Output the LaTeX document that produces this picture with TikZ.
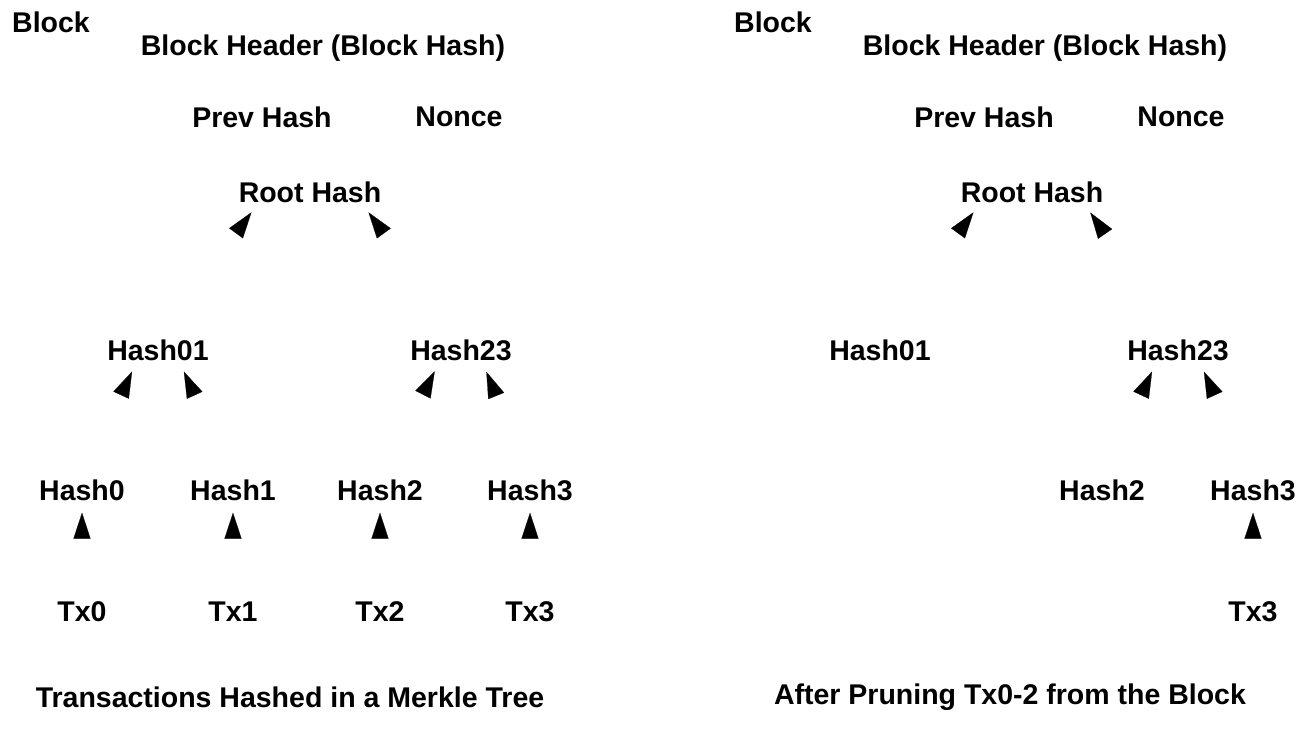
\documentclass[tikz,border=0pt]{standalone}
\usepackage{fontspec}
\setmainfont{Liberation Sans}
\usetikzlibrary{arrows.meta}

\begin{document}
\begin{tikzpicture}[x=1pt, y=-1pt, line cap=round, line join=round,
    lbl/.style={font=\fontsize{28.5}{32}\selectfont\bfseries, inner sep=0pt},
    link/.style={white, line width=0.2pt, shorten <=3pt, shorten >=12pt,
      -{Triangle[length=26pt, width=17pt, black]}}]
  \useasboundingbox (0,0) rectangle (1306,732);

  % full tree
  \node[lbl, anchor=west] (blkF) at (12,22) {Block};
  \node[lbl] (hdrF) at (323,48) {Block Header (Block Hash)};
  \node[lbl] (prevF) at (262,117) {Prev Hash};
  \node[lbl] (nonceF) at (459,117) {Nonce};
  \node[lbl] (rootF) at (310,192) {Root Hash};
  \node[lbl] (h01F) at (158,350) {Hash01};
  \node[lbl] (h23F) at (461,350) {Hash23};
  \foreach \i/\x in {0/82,1/233,2/380,3/530} {
    \node[lbl] (hF\i) at (\x,490) {Hash\i};
    \node[lbl] (txF\i) at (\x,612) {Tx\i};
    \draw[link] (txF\i) -- (hF\i);
  }
  \draw[link] (h01F.north) -- ([xshift=20pt]rootF.south west);
  \draw[link] (h23F.north) -- ([xshift=-20pt]rootF.south east);
  \draw[link] (hF0.north) -- ([xshift=30pt]h01F.south west);
  \draw[link] (hF1.north) -- ([xshift=-30pt]h01F.south east);
  \draw[link] (hF2.north) -- ([xshift=30pt]h23F.south west);
  \draw[link] (hF3.north) -- ([xshift=-30pt]h23F.south east);
  \node[lbl] (capF) at (290,697) {Transactions Hashed in a Merkle Tree};

  % pruned tree
  \begin{scope}[xshift=722pt]
    \node[lbl, anchor=west] (blkP) at (12,22) {Block};
    \node[lbl] (hdrP) at (323,48) {Block Header (Block Hash)};
    \node[lbl] (prevP) at (262,117) {Prev Hash};
    \node[lbl] (nonceP) at (459,117) {Nonce};
    \node[lbl] (rootP) at (310,192) {Root Hash};
    \node[lbl] (h01P) at (158,350) {Hash01};
    \node[lbl] (h23P) at (456,350) {Hash23};
    \node[lbl] (hP2) at (380,490) {Hash2};
    \node[lbl] (hP3) at (531,490) {Hash3};
    \node[lbl] (txP3) at (531,612) {Tx3};
    \draw[link] (txP3) -- (hP3);
    \draw[link] (h01P.north) -- ([xshift=20pt]rootP.south west);
    \draw[link] (h23P.north) -- ([xshift=-20pt]rootP.south east);
    \draw[link] (hP2.north) -- ([xshift=30pt]h23P.south west);
    \draw[link] (hP3.north) -- ([xshift=-30pt]h23P.south east);
    \node[lbl] (capP) at (288,697) {After Pruning Tx0-2 from the Block};
  \end{scope}
\end{tikzpicture}
\end{document}
